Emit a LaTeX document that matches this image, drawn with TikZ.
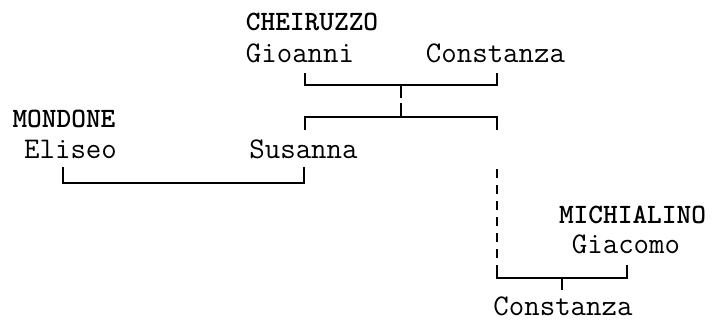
\documentclass[tikz,border=0pt]{standalone}
\usepackage{tikz}
\usetikzlibrary{positioning}

\tikzset{
  person/.style={anchor=base, inner sep=0pt, font=\fontsize{30}{30}\selectfont\ttfamily},
  surname/.style={anchor=base, inner sep=0pt, font=\fontsize{28}{28}\selectfont\ttfamily\bfseries},
  kin/.style={line width=1.6pt, line cap=butt},
}

\begin{document}
\begin{tikzpicture}[x=1pt,y=-1pt]
  \useasboundingbox (0,0) rectangle (715,322);

  % Cheiruzzo couple
  \node[surname] (cheiruzzo) at (312,30) {CHEIRUZZO};
  \node[person] (gioanni) at (300,62) {Gioanni};
  \node[person] (constanzaA) at (495.5,62) {Constanza};

  % Mondone and Susanna
  \node[surname] (mondone) at (64,127) {MONDONE};
  \node[person] (eliseo) at (70.5,158) {Eliseo};
  \node[person] (susanna) at (303.5,158) {Susanna};

  % Michialino
  \node[surname] (michialino) at (632.5,223) {MICHIALINO};
  \node[person] (giacomo) at (626,253) {Giacomo};
  \node[person] (constanzaB) at (563,315) {Constanza};

  % marriage: Gioanni -- Constanza
  \coordinate (gioT) at (305,73);
  \coordinate (conT) at (497,73);
  \coordinate (gcM) at (401,85);
  \coordinate (gcD) at (401,98);
  \draw[kin] (gioT) |- (gcM) -| (conT);
  \draw[kin] (gcM) -- (gcD);

  % their children
  \coordinate (chU) at (401,103);
  \coordinate (chM) at (401,117);
  \coordinate (susT) at (305,130);
  \coordinate (sibT) at (497,130);
  \draw[kin] (chU) -- (chM);
  \draw[kin] (susT) |- (chM) -| (sibT);

  % marriage: Eliseo -- Susanna
  \coordinate (eliB) at (63,167);
  \coordinate (esM) at (184,183);
  \coordinate (susB) at (304,167);
  \draw[kin] (eliB) |- (esM) -| (susB);

  % sister -- Giacomo
  \coordinate (sisT) at (497,169);
  \coordinate (sisB) at (497,265);
  \coordinate (cgM) at (562,278);
  \coordinate (giaB) at (627,265);
  \coordinate (cgD) at (562,290);
  \draw[kin, dash pattern=on 9pt off 7pt] (sisT) -- (sisB);
  \draw[kin] (sisB) |- (cgM) -| (giaB);
  \draw[kin] (cgM) -- (cgD);
\end{tikzpicture}
\end{document}
